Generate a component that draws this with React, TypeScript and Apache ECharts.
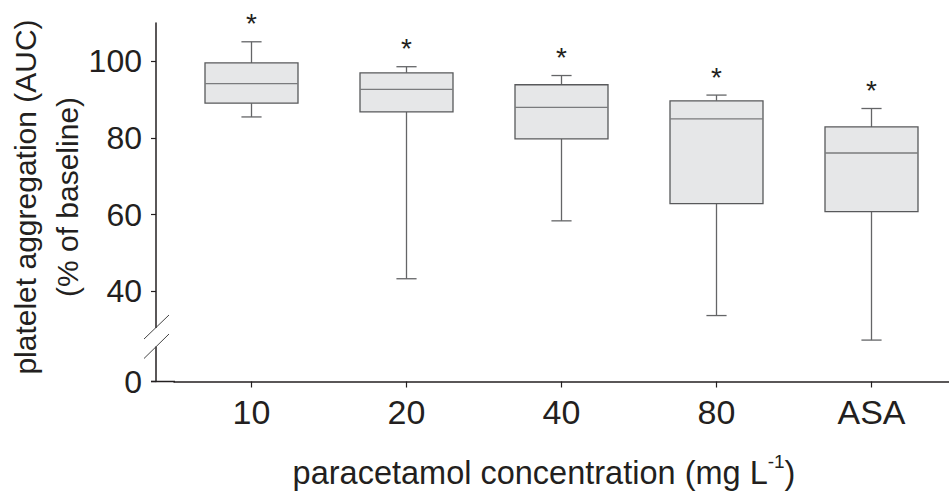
import React, { useEffect, useRef } from "react";
import * as echarts from "echarts";

// ---- data ----
const categories = ["10", "20", "40", "80", "ASA"];
const whiskerLow = [85.5, 43.3, 58.4, 33.7, 27.3];
const quartile1 = [89.1, 86.8, 79.8, 62.9, 60.8];
const medians = [94.2, 92.7, 88.0, 85.0, 76.1];
const quartile3 = [99.6, 97.0, 93.9, 89.7, 82.9];
const whiskerHigh = [105.1, 98.6, 96.3, 91.2, 87.7];
const significance = ["*", "*", "*", "*", "*"];

// broken y axis: the bottom of the axis is labelled "0"
const Y_FLOOR = 16.5;
const Y_MAX = 110;
const yTickValues = [Y_FLOOR, 40, 60, 80, 100];
const yTickLabels = ["0", "40", "60", "80", "100"];

const FONT = "'Liberation Sans', Arial, Helvetica, sans-serif";
const INK = "#231f20";

const GRID_LEFT = 174;
const GRID_TOP = 23;
const GRID_H = 358.5;
const Y_OFFSET = 18;

export default function App() {
  const ref = useRef<HTMLDivElement>(null);

  useEffect(() => {
    document.body.style.margin = "0";
    if (!ref.current) return;
    const chart = echarts.init(ref.current, null, { renderer: "svg" });

    const rows = categories.map((_, i) => [
      i,
      whiskerLow[i],
      quartile1[i],
      medians[i],
      quartile3[i],
      whiskerHigh[i],
    ]);

    const axisX = GRID_LEFT - Y_OFFSET;
    const axisBottom = GRID_TOP + GRID_H;

    const option: any = {
      animation: false,
      backgroundColor: "#ffffff",
      grid: {
        left: GRID_LEFT,
        top: GRID_TOP,
        width: 157 * categories.length,
        height: GRID_H,
        containLabel: false,
      },
      xAxis: {
        type: "category",
        data: categories,
        axisLine: { show: true, lineStyle: { color: INK, width: 1.5 } },
        axisTick: {
          show: true,
          alignWithLabel: true,
          length: 6,
          lineStyle: { color: INK, width: 1.2 },
        },
        axisLabel: {
          color: INK,
          fontFamily: FONT,
          fontSize: 34,
          margin: 13,
        },
        splitLine: { show: false },
      },
      yAxis: {
        type: "value",
        min: Y_FLOOR,
        max: Y_MAX,
        offset: Y_OFFSET,
        axisLine: { show: true, lineStyle: { color: INK, width: 1.5 } },
        axisTick: {
          show: true,
          length: 5,
          customValues: yTickValues,
          lineStyle: { color: INK, width: 1.2 },
        },
        axisLabel: {
          color: INK,
          fontFamily: FONT,
          fontSize: 32,
          margin: 14,
          customValues: yTickValues,
          formatter: (v: number) => {
            const idx = yTickValues.findIndex((t) => Math.abs(t - v) < 1e-6);
            return idx >= 0 ? yTickLabels[idx] : "";
          },
        },
        splitLine: { show: false },
      },
      series: [
        {
          type: "custom",
          data: rows,
          encode: { x: 0, y: [1, 2, 3, 4, 5] },
          renderItem: (params: any, api: any) => {
            const xi = api.value(0);
            const pLo = api.coord([xi, api.value(1)]);
            const pQ1 = api.coord([xi, api.value(2)]);
            const pMed = api.coord([xi, api.value(3)]);
            const pQ3 = api.coord([xi, api.value(4)]);
            const pHi = api.coord([xi, api.value(5)]);
            const band = api.size([1, 0])[0];
            const bw = band * 0.6;
            const cap = band * 0.13;
            const cx = pLo[0];
            const lineStyle = { stroke: "#646567", lineWidth: 1.3 };
            return {
              type: "group",
              children: [
                {
                  type: "line",
                  shape: { x1: cx, y1: pHi[1], x2: cx, y2: pQ3[1] },
                  style: lineStyle,
                },
                {
                  type: "line",
                  shape: { x1: cx, y1: pQ1[1], x2: cx, y2: pLo[1] },
                  style: lineStyle,
                },
                {
                  type: "line",
                  shape: { x1: cx - cap / 2, y1: pHi[1], x2: cx + cap / 2, y2: pHi[1] },
                  style: lineStyle,
                },
                {
                  type: "line",
                  shape: { x1: cx - cap / 2, y1: pLo[1], x2: cx + cap / 2, y2: pLo[1] },
                  style: lineStyle,
                },
                {
                  type: "rect",
                  shape: { x: cx - bw / 2, y: pQ3[1], width: bw, height: pQ1[1] - pQ3[1] },
                  style: { fill: "#e6e7e8", stroke: "#58595b", lineWidth: 1.3 },
                },
                {
                  type: "line",
                  shape: { x1: cx - bw / 2, y1: pMed[1], x2: cx + bw / 2, y2: pMed[1] },
                  style: { stroke: "#7a7b7d", lineWidth: 1.3 },
                },
                {
                  type: "text",
                  x: cx,
                  y: pHi[1] - 18,
                  style: {
                    text: significance[params.dataIndex],
                    fill: INK,
                    font: `28px ${FONT}`,
                    textAlign: "center",
                    textVerticalAlign: "middle",
                  },
                },
              ],
            };
          },
        },
      ],
      graphic: [
        // axis-line segment between the offset y axis and the category band start
        {
          type: "line",
          shape: { x1: axisX - 5, y1: axisBottom, x2: GRID_LEFT + 1, y2: axisBottom },
          style: { stroke: INK, lineWidth: 1.5 },
          z: 10,
        },
        // gap in the y axis line for the break
        {
          type: "rect",
          shape: { x: axisX - 2, y: 328, width: 4, height: 18.5 },
          style: { fill: "#ffffff" },
          z: 10,
        },
        {
          type: "line",
          shape: { x1: axisX - 12, y1: 339, x2: axisX + 13, y2: 315 },
          style: { stroke: "#444", lineWidth: 1 },
          z: 11,
        },
        {
          type: "line",
          shape: { x1: axisX - 12, y1: 358.5, x2: axisX + 13, y2: 334 },
          style: { stroke: "#444", lineWidth: 1 },
          z: 11,
        },
        {
          type: "text",
          x: 46,
          y: 197,
          rotation: Math.PI / 2,
          style: {
            text: "platelet aggregation (AUC)\n(% of baseline)",
            font: `30px ${FONT}`,
            lineHeight: 42,
            fill: INK,
            textAlign: "center",
            textVerticalAlign: "middle",
          },
        },
        {
          type: "text",
          x: 544,
          y: 473,
          style: {
            text: "{n|paracetamol concentration (mg L}{s|-1}{n|)}",
            textAlign: "center",
            textVerticalAlign: "middle",
            rich: {
              n: { font: `32.5px ${FONT}`, fill: INK, lineHeight: 42 },
              s: {
                font: `19px ${FONT}`,
                fill: INK,
                lineHeight: 13,
                verticalAlign: "top",
              },
            },
          },
        },
      ],
    };

    chart.setOption(option);
    return () => chart.dispose();
  }, []);

  return <div ref={ref} style={{ width: 949, height: 492 }} />;
}
